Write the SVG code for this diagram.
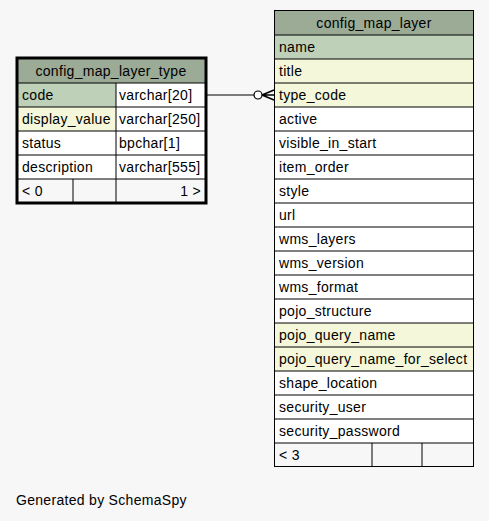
<svg xmlns="http://www.w3.org/2000/svg" width="489" height="521" viewBox="0 0 489 521">
<style>
text{font-family:"Liberation Sans",Arial,sans-serif;font-size:14px;letter-spacing:0.3px;fill:#000}
.c{text-anchor:middle}
.e{text-anchor:end}
.hd{fill:#9bab96}
.pk{fill:#bed1b8}
.ix{fill:#f4f7da}
.rw{fill:#ffffff}
.ft{fill:#f7f7f7}
.ln{stroke:#000;stroke-width:1;fill:none}
</style>
<rect x="0" y="0" width="489" height="521" fill="#f7f7f7"/>
<g id="connectors">
<line x1="207" y1="95" x2="254" y2="95" stroke="#000" stroke-width="1.2"/>
<circle cx="258" cy="95" r="4" fill="#fff" stroke="#000" stroke-width="1.2"/>
<path d="M262 95 L274 90 M262 95 L274 95 M262 95 L274 100" stroke="#000" stroke-width="1.5" fill="none"/>
</g>
<g id="config_map_layer_type">
<rect class="hd" x="16" y="57" width="191" height="26"/>
<rect class="pk" x="16" y="83" width="100" height="24"/>
<rect class="rw" x="116" y="83" width="91" height="24"/>
<rect class="ix" x="16" y="107" width="100" height="24"/>
<rect class="rw" x="116" y="107" width="91" height="24"/>
<rect class="rw" x="16" y="131" width="191" height="48"/>
<rect class="ft" x="16" y="179" width="191" height="24"/>
<path class="ln" d="M16 83H207M16 107H207M16 131H207M16 155H207M16 179H207M116 83V203M73 179V203"/>
<rect x="17" y="58" width="189" height="145" fill="none" stroke="#000" stroke-width="3"/>
<text class="c" x="111" y="76">config_map_layer_type</text>
<text x="22" y="100">code</text><text x="119" y="100">varchar[20]</text>
<text x="22" y="124">display_value</text><text x="119" y="124">varchar[250]</text>
<text x="22" y="148">status</text><text x="119" y="148">bpchar[1]</text>
<text x="22" y="172">description</text><text x="119" y="172">varchar[555]</text>
<text x="22" y="196">&lt; 0</text><text class="e" x="201" y="196">1 &gt;</text>
</g>
<g id="config_map_layer">
<rect class="hd" x="274" y="10" width="200" height="25"/>
<rect class="pk" x="274" y="35" width="200" height="24"/>
<rect class="ix" x="274" y="59" width="200" height="48"/>
<rect class="rw" x="274" y="107" width="200" height="216"/>
<rect class="ix" x="274" y="323" width="200" height="48"/>
<rect class="rw" x="274" y="371" width="200" height="72"/>
<rect class="ft" x="274" y="443" width="200" height="24"/>
<path class="ln" d="M274 35H474M274 59H474M274 83H474M274 107H474M274 131H474M274 155H474M274 179H474M274 203H474M274 227H474M274 251H474M274 275H474M274 299H474M274 323H474M274 347H474M274 371H474M274 395H474M274 419H474M274 443H474M372 443V467M422 443V467"/>
<rect class="ln" x="274.5" y="10.5" width="199" height="456"/>
<text class="c" x="374" y="28">config_map_layer</text>
<text x="279" y="52">name</text>
<text x="279" y="76">title</text>
<text x="279" y="100">type_code</text>
<text x="279" y="124">active</text>
<text x="279" y="148">visible_in_start</text>
<text x="279" y="172">item_order</text>
<text x="279" y="196">style</text>
<text x="279" y="220">url</text>
<text x="279" y="244">wms_layers</text>
<text x="279" y="268">wms_version</text>
<text x="279" y="292">wms_format</text>
<text x="279" y="316">pojo_structure</text>
<text x="279" y="340">pojo_query_name</text>
<text x="279" y="364">pojo_query_name_for_select</text>
<text x="279" y="388">shape_location</text>
<text x="279" y="412">security_user</text>
<text x="279" y="436">security_password</text>
<text x="279" y="460">&lt; 3</text>
</g>
<text x="16" y="505">Generated by SchemaSpy</text>
</svg>
